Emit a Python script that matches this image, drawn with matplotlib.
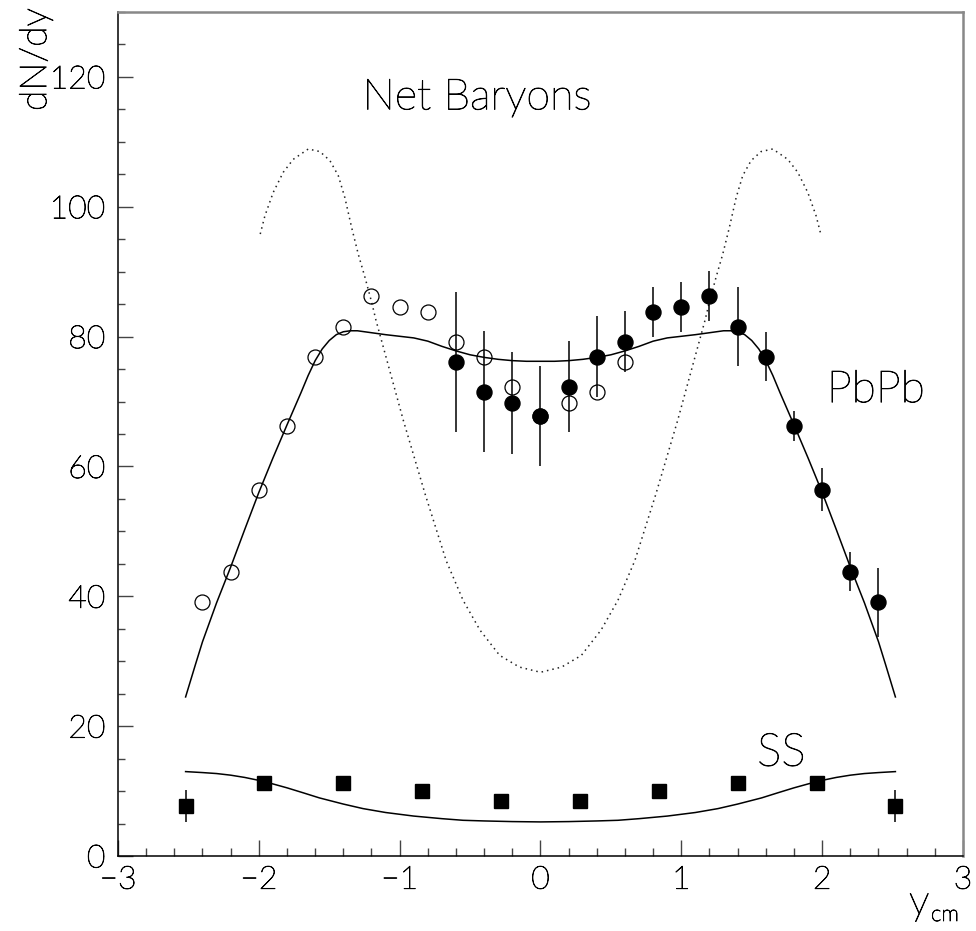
import matplotlib
matplotlib.use("Agg")
import matplotlib.pyplot as plt
import matplotlib.patheffects as pe
import numpy as np

plt.rcParams['font.family'] = ['Lato', 'DejaVu Sans']
plt.rcParams['font.weight'] = 'light'

# PbPb measured (filled circles)
pb_x = [-0.6, -0.4, -0.2, 0.0, 0.2, 0.4, 0.6, 0.8, 1.0, 1.2, 1.4, 1.6, 1.8, 2.0, 2.2, 2.4]
pb_y = [76.1, 71.5, 69.8, 67.7, 72.3, 76.9, 79.2, 83.8, 84.6, 86.2, 81.5, 76.9, 66.2, 56.4, 43.8, 39.1]
pb_err = [10.8, 9.3, 7.9, 7.7, 7.0, 6.2, 4.7, 3.85, 3.85, 3.85, 6.1, 3.8, 2.3, 3.3, 3.0, 5.3]

# PbPb reflected (open circles)
pbr_x = [-2.4, -2.2, -2.0, -1.8, -1.6, -1.4, -1.2, -1.0, -0.8, -0.6, -0.4, -0.2, 0.0, 0.2, 0.4, 0.6]
pbr_y = [39.1, 43.8, 56.4, 66.2, 76.9, 81.5, 86.2, 84.6, 83.8, 79.2, 76.9, 72.3, 67.7, 69.8, 71.5, 76.1]

# SS data (squares)
ss_x = [-2.52, -1.96, -1.40, -0.84, -0.28, 0.28, 0.84, 1.40, 1.96, 2.52]
ss_y = [7.7, 11.3, 11.3, 10.0, 8.4, 8.4, 10.0, 11.3, 11.3, 7.7]
ss_err = [2.5, 0.8, 0.8, 0.8, 0.8, 0.8, 0.8, 0.8, 0.8, 2.5]

# PbPb model curve (solid)
pbc_x = [-2.52, -2.45, -2.4, -2.34, -2.3, -2.2, -2.1, -2.0, -1.9, -1.8, -1.7, -1.65, -1.6, -1.55,
         -1.5, -1.45, -1.4, -1.35, -1.3, -1.2, -1.1, -0.9, -0.8, -0.7, -0.6, -0.5, -0.4, -0.3,
         -0.2, -0.1, 0.0,
         0.1, 0.2, 0.3, 0.4, 0.5, 0.6, 0.7, 0.8, 0.9, 1.1, 1.2, 1.3, 1.35, 1.4, 1.45, 1.5, 1.55,
         1.6, 1.65, 1.7, 1.8, 1.9, 2.0, 2.1, 2.2, 2.3, 2.34, 2.4, 2.45, 2.52]
pbc_y = [24.5, 29.5, 33.0, 36.6, 39.0, 44.5, 50.3, 56.0, 61.3, 66.4, 71.4, 74.0, 76.3, 78.1,
         79.4, 80.3, 80.75, 80.9, 80.9, 80.6, 80.3, 79.8, 79.3, 78.5, 77.8, 77.2, 76.8, 76.5,
         76.3, 76.2, 76.2,
         76.2, 76.3, 76.5, 76.8, 77.2, 77.8, 78.5, 79.3, 79.8, 80.3, 80.6, 80.9, 80.9, 80.75, 80.3, 79.4, 78.1,
         76.3, 74.0, 71.4, 66.4, 61.3, 56.0, 50.3, 44.5, 39.0, 36.6, 33.0, 29.5, 24.5]

# SS model curve (solid)
ssc_x = [-2.52, -2.4, -2.3, -2.2, -2.1, -2.0, -1.9, -1.8, -1.68, -1.57, -1.4, -1.26, -1.1, -0.9,
         -0.7, -0.55, -0.4, -0.2, 0.0,
         0.2, 0.4, 0.55, 0.7, 0.9, 1.1, 1.26, 1.4, 1.57, 1.68, 1.8, 1.9, 2.0, 2.1, 2.2, 2.3, 2.4, 2.52]
ssc_y = [13.0, 12.85, 12.7, 12.45, 12.1, 11.65, 11.1, 10.5, 9.7, 8.95, 8.0, 7.3, 6.7, 6.15,
         5.75, 5.5, 5.4, 5.3, 5.25,
         5.3, 5.4, 5.5, 5.75, 6.15, 6.7, 7.3, 8.0, 8.95, 9.7, 10.5, 11.1, 11.65, 12.1, 12.45, 12.7, 12.85, 13.0]

# Net baryons (dotted)
nb_x = [-1.99, -1.957, -1.898, -1.827, -1.756, -1.649, -1.566, -1.495, -1.436, -1.389, -1.341,
        -1.294, -1.246, -1.199, -1.168, -0.974, -0.82, -0.67, -0.55, -0.43, -0.29, -0.15,
        0.0,
        0.15, 0.29, 0.43, 0.55, 0.67, 0.82, 0.974, 1.168, 1.199, 1.246, 1.294, 1.341, 1.389,
        1.436, 1.495, 1.566, 1.649, 1.756, 1.827, 1.898, 1.957, 1.99]
nb_y = [95.8, 98.6, 102.2, 105.3, 107.3, 108.9, 108.5, 107.1, 104.8, 101.4, 96.8,
        92.7, 89.1, 85.3, 82.5, 67.1, 55.8, 45.5, 39.4, 34.8, 30.9, 29.1,
        28.3,
        29.1, 30.9, 34.8, 39.4, 45.5, 55.8, 67.1, 82.5, 85.3, 89.1, 92.7, 96.8, 101.4,
        104.8, 107.1, 108.5, 108.9, 107.3, 105.3, 102.2, 98.6, 95.8]

W, H = 976, 931
fig = plt.figure(figsize=(W / 100, H / 100), dpi=100)
ax = fig.add_axes([118 / W, (H - 856) / H, (963 - 118) / W, (856 - 12) / H])

ax.plot(nb_x, nb_y, color='#222222', lw=1.1, linestyle=(0, (1, 2.6)))
ax.plot(pbc_x, pbc_y, color='black', lw=1.1)
ax.plot(ssc_x, ssc_y, color='black', lw=1.1)

ax.errorbar(pb_x, pb_y, yerr=pb_err, fmt='o', color='black', ms=10.8,
            elinewidth=1.1, capsize=0, zorder=4)
ax.plot(pbr_x, pbr_y, 'o', mfc='none', mec='black', mew=0.9, ms=10.8, zorder=5)
ax.errorbar(ss_x, ss_y, yerr=ss_err, fmt='s', color='black', ms=9.4,
            elinewidth=1.1, capsize=0, zorder=4)

ax.set_xlim(-3, 3)
ax.set_ylim(0, 130)
ax.set_xticks(np.arange(-3, 3.01, 1))
ax.set_xticks(np.arange(-3, 3.01, 0.2), minor=True)
ax.set_yticks(np.arange(0, 121, 20))
ax.set_yticks(np.arange(0, 131, 5), minor=True)

ax.tick_params(axis='both', which='both', direction='in', top=False, right=False,
               color='#444444', width=1.0, labelsize=23, labelcolor='black')
ax.tick_params(axis='x', which='major', length=11.5, pad=7)
ax.tick_params(axis='x', which='minor', length=5.8)
ax.tick_params(axis='y', which='major', length=10.8, pad=9)
ax.tick_params(axis='y', which='minor', length=5.0)

stroke = [pe.withStroke(linewidth=0.6, foreground='black')]
for lab in ax.get_xticklabels() + ax.get_yticklabels():
    lab.set_path_effects(stroke)

for s in ['left', 'bottom']:
    ax.spines[s].set_color('black')
    ax.spines[s].set_linewidth(1.1)
for s in ['top', 'right']:
    ax.spines[s].set_color('#888888')
    ax.spines[s].set_linewidth(1.8)

texts = []
texts.append(ax.text(-1.263, 115.0, 'Net Baryons', fontsize=31, color='black', ha='left', va='baseline'))
texts.append(ax.text(2.033, 69.9, 'PbPb', fontsize=32, color='black', ha='left', va='baseline'))
texts.append(ax.text(1.538, 13.9, 'SS', fontsize=33, color='black', ha='left', va='baseline'))
texts.append(fig.text(36 / W, 1 - 8 / H, 'dN/dy', rotation=90, fontsize=27, color='black',
                      ha='center', va='top'))
texts.append(fig.text(909 / W, 1 - 914 / H, 'y', fontsize=30, color='black', ha='left', va='baseline'))
texts.append(fig.text(931 / W, 1 - 921 / H, 'cm', fontsize=16, color='black', ha='left', va='baseline'))
for t in texts:
    t.set_path_effects(stroke)

fig.savefig('out.png', dpi=100)
